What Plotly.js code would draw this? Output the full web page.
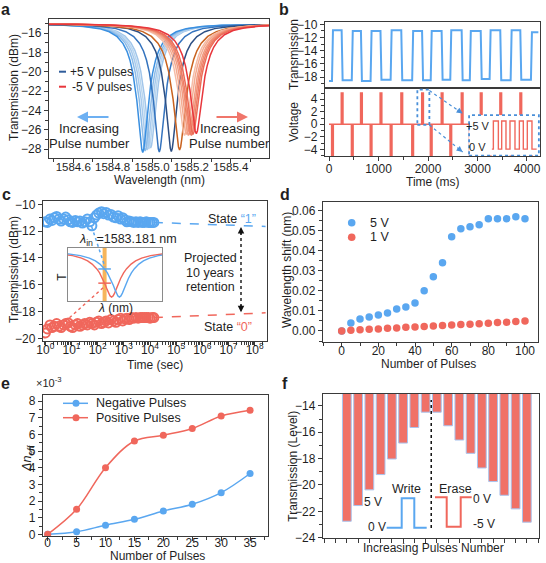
<!DOCTYPE html>
<html>
<head>
<meta charset="utf-8">
<script src="https://cdn.plot.ly/plotly-3.0.1.min.js"></script>
<style>
  html, body { margin: 0; padding: 0; background: #fff; }
  #fig { width: 546px; height: 563px; }
</style>
</head>
<body>
<div id="fig"></div>
<script>
// ---------------- data ----------------

// (a) resonance dips: shared line shape (offset from centre in nm, fraction of dip depth)
const dipOffsetNm = [0, 0.005, 0.01, 0.015, 0.02, 0.03, 0.04, 0.05, 0.065, 0.08, 0.1, 0.13, 0.17, 0.22, 0.3, 0.4, 0.55, 0.8, 1.2];
const dipDepthFraction = [1, 0.976, 0.915, 0.834, 0.749, 0.597, 0.476, 0.384, 0.284, 0.215, 0.155, 0.101, 0.063, 0.039, 0.022, 0.012, 0.0066, 0.0032, 0.0014];
const spectrumBaseline = -15.0;
const posPulseCenter = [1584.993, 1584.984, 1584.975, 1584.965, 1584.953, 1585.037, 1585.098];
const posPulseMin    = [-27.9, -28.0, -28.1, -28.2, -28.35, -28.3, -28.25];
const posPulseColor  = ['#A2C6EA', '#B8D6F0', '#A8CAEC', '#8DBCE8', '#3A8FE0', '#3473BE', '#2C4F84'];
const negPulseCenter = [1585.14, 1585.165, 1585.175, 1585.185, 1585.193, 1585.2, 1585.208, 1585.225];
const negPulseMin    = [-28.1, -26.6, -26.5, -26.6, -26.5, -26.6, -26.5, -26.4];
const negPulseColor  = ['#C9621E', '#F6BCA6', '#F4AC92', '#F29C82', '#F08C72', '#EE7C64', '#EC6C57', '#E8363C'];

// (b) pulse train (ms) and optical response (dBm)
const setPulseTime   = [70, 470, 850, 1255, 1690, 2065, 2460, 2855, 3255, 3680, 4090];   // -5 V pulses
const resetPulseTime = [265, 655, 1050, 1470, 1890, 2285, 2690, 3075, 3470, 3875];       // +5 V pulses
const highLevel = [-10.9, -11.0, -11.0, -10.9, -11.0, -11.0, -10.9, -11.0, -10.9, -10.9, -11.2];
const lowLevel  = [-18.6, -18.5, -18.6, -18.4, -18.5, -18.5, -18.4, -18.5, -18.3, -18.5, -18.4];
const pulseAmplitude = 5;
const pulseWidthMs = 32;
const traceEndMs = 4230;
// zoomed pulse sketch inside the inset
const zoomRise = [3320, 3488, 3656, 3845, 4006];
const zoomFall = [3421, 3575, 3757, 3925, 4100];
const zoomStart = 3290, zoomEnd = 4195, zoomHigh = 0.5, zoomLow = -4.0;

// (c) retention
const retTime = [1, 1.2, 1.5, 1.8, 2.2, 2.7, 3.3, 4, 5, 6, 7.5, 9, 11, 14, 17, 21, 26, 32, 40, 50, 60, 75, 90, 110, 140, 170, 210, 260, 320, 400, 500, 600, 750, 900, 1100, 1300, 1600, 2000, 2400, 2900, 3500, 4200, 5000, 6000, 7200, 8600, 10000, 12000, 14000];
const state1Level = [-11.3, -11.35, -11.1, -11.2, -11.0, -10.9, -11.1, -11.25, -11.1, -10.95, -11.15, -11.3, -11.35, -11.2, -11.3, -11.25, -11.4, -11.3, -11.1, -11.3, -11.6, -11.0, -10.8, -10.65, -10.55, -10.7, -10.6, -10.8, -10.75, -10.95, -11.0, -10.85, -11.1, -11.0, -11.15, -11.3, -11.25, -11.3, -11.35, -11.3, -11.35, -11.3, -11.35, -11.35, -11.3, -11.35, -11.35, -11.35, -11.35];
const state0Level = [-19.6, -19.3, -19.0, -19.2, -19.1, -18.9, -19.1, -19.2, -19.0, -18.9, -18.85, -19.1, -19.2, -19.0, -18.9, -19.1, -19.0, -18.9, -19.0, -18.8, -18.9, -19.0, -18.8, -18.7, -18.9, -18.8, -18.7, -18.85, -18.6, -18.7, -18.8, -18.6, -18.5, -18.7, -18.55, -18.5, -18.6, -18.45, -18.5, -18.45, -18.5, -18.45, -18.45, -18.45, -18.45, -18.45, -18.5, -18.45, -18.45];
const projTime = [14000, 2.6e8];
const proj1Level = [-11.35, -11.65];
const proj0Level = [-18.45, -18.1];
// inset: probe wavelength and the two resonances (arbitrary T)
const probeWavelength = 1583.181;
const insetRedCenter = 1583.216, insetBlueCenter = 1583.255;
const insetTop = 0.943, insetBottom = 0.075, insetWidthScale = 1.5;

// (d) wavelength shift vs pulses
const dPulses = [0, 5, 10, 15, 20, 25, 30, 35, 40, 45, 50, 55, 60, 65, 70, 75, 80, 85, 90, 95, 100];
const shift5V = [0, 0.004, 0.006, 0.007, 0.008, 0.009, 0.011, 0.012, 0.014, 0.020, 0.027, 0.034, 0.047, 0.051, 0.052, 0.053, 0.056, 0.056, 0.056, 0.057, 0.056];
const shift1V = [0, 0.0003, 0.0006, 0.0008, 0.001, 0.0013, 0.0015, 0.0018, 0.002, 0.0022, 0.0025, 0.0027, 0.003, 0.0032, 0.0034, 0.0036, 0.0039, 0.0042, 0.0044, 0.0047, 0.005];

// (e) effective index change (x1e-3)
const ePulses = [0, 5, 10, 15, 20, 25, 30, 35];
const dnNegative = [0, 0.15, 0.55, 0.9, 1.4, 1.8, 2.5, 3.65];
const dnPositive = [0, 1.5, 4.0, 5.6, 5.95, 6.35, 7.1, 7.45];

// (f) multilevel write / erase
const fStep = [1, 2, 3, 4, 5, 6, 7, 8, 9, 10, 11, 12, 13, 14, 15, 16, 17];
const fLevel = [-22.75, -21.56, -20.37, -19.21, -18.03, -16.82, -15.64, -14.48, -14.48, -15.51, -16.59, -17.6, -18.71, -19.74, -20.78, -21.81, -22.82];
const fBarTop = -13;

// ---------------- style ----------------
const W = 546, H = 563;
const FONT = 'Liberation Sans, Arial, Helvetica, sans-serif';
const INK = '#1f1f1f';
const AX = '#3a3a3a';
const BLUE = '#5AA7F0';
const RED = '#F0675C';
const DOTBLUE = '#4A90D9';

const dx = (a, b) => [a / W, b / W];
const dy = (top, bottom) => [1 - bottom / H, 1 - top / H];
const PX = v => v / W;
const PY = v => 1 - v / H;

function axis(domain, range, extra) {
  return Object.assign({
    domain: domain, range: range, showline: true, mirror: true, linecolor: AX, linewidth: 1.2,
    ticks: 'outside', ticklen: 4, tickwidth: 1, tickcolor: AX,
    showgrid: false, zeroline: false,
    tickfont: {family: FONT, size: 12, color: INK}
  }, extra);
}
function minor(d) { return {ticks: 'outside', ticklen: 2.5, tickwidth: 1, tickcolor: AX, dtick: d, showgrid: false}; }

function txt(t, x, y, size, extra) {
  return Object.assign({
    text: t, x: PX(x), y: PY(y), xref: 'paper', yref: 'paper', showarrow: false,
    xanchor: 'center', yanchor: 'middle', font: {family: FONT, size: size || 12, color: INK}
  }, extra || {});
}
function head(xref, yref, x, y, ax, ay, color, width) {
  return {text: '', xref: xref, yref: yref, x: x, y: y, ax: ax, ay: ay, axref: 'pixel', ayref: 'pixel',
    showarrow: true, arrowhead: 2, arrowsize: 1, arrowwidth: width, arrowcolor: color, standoff: 0};
}
// legend keys drawn as paper-space decorations
function dot(cx, cy, r, color) {
  return {type: 'circle', xref: 'paper', yref: 'paper', x0: PX(cx - r), x1: PX(cx + r), y0: PY(cy + r), y1: PY(cy - r),
    fillcolor: color, line: {width: 0}};
}
function seg(x0, x1, y, color, width) {
  return {type: 'line', xref: 'paper', yref: 'paper', x0: PX(x0), x1: PX(x1), y0: PY(y), y1: PY(y), line: {color: color, width: width}};
}

// dip profile sampled symmetrically around a centre
function dip(center, depthFrom, depthTo, scale) {
  const xs = [], ys = [];
  for (let i = dipOffsetNm.length - 1; i > 0; i--) {
    xs.push(center - dipOffsetNm[i] * scale);
    ys.push(depthFrom + (depthTo - depthFrom) * dipDepthFraction[i]);
  }
  for (let i = 0; i < dipOffsetNm.length; i++) {
    xs.push(center + dipOffsetNm[i] * scale);
    ys.push(depthFrom + (depthTo - depthFrom) * dipDepthFraction[i]);
  }
  return {xs, ys};
}
function dipAt(delta) {
  const d = Math.abs(delta);
  for (let i = 1; i < dipOffsetNm.length; i++) {
    if (d <= dipOffsetNm[i]) {
      const f = (d - dipOffsetNm[i - 1]) / (dipOffsetNm[i] - dipOffsetNm[i - 1]);
      return dipDepthFraction[i - 1] + f * (dipDepthFraction[i] - dipDepthFraction[i - 1]);
    }
  }
  return 0;
}

const traces = [];
const line = (x, y, xa, ya, color, width, extra) => Object.assign({
  type: 'scatter', mode: 'lines', x: x, y: y, xaxis: xa, yaxis: ya,
  line: {color: color, width: width}, showlegend: false, hoverinfo: 'skip'
}, extra || {});

// (a)
posPulseCenter.forEach((c, i) => {
  const d = dip(c, spectrumBaseline, posPulseMin[i], 1);
  traces.push(line(d.xs, d.ys, 'x', 'y', posPulseColor[i], 1.5));
});
negPulseCenter.forEach((c, i) => {
  const d = dip(c, spectrumBaseline, negPulseMin[i], 1.1);
  traces.push(line(d.xs, d.ys, 'x', 'y', negPulseColor[i], 1.5));
});

// (b) optical response following the pulses
(function () {
  const x = [0], y = [lowLevel[0]];
  const e = 10;
  setPulseTime.forEach((t, k) => {
    x.push(t - e, t + e); y.push(lowLevel[k], highLevel[k]);
    if (k < resetPulseTime.length) {
      const tf = resetPulseTime[k];
      x.push(tf - e, tf + e); y.push(highLevel[k], lowLevel[k + 1]);
    }
  });
  x.push(traceEndMs); y.push(highLevel[highLevel.length - 1]);
  traces.push(line(x, y, 'x2', 'y2', BLUE, 2));

  const ev = [];
  setPulseTime.forEach(t => ev.push([t, -pulseAmplitude]));
  resetPulseTime.forEach(t => ev.push([t, pulseAmplitude]));
  ev.sort((a, b) => a[0] - b[0]);
  const px = [0], pv = [0];
  ev.forEach(([t, a]) => {
    const h = pulseWidthMs / 2;
    px.push(t - h, t - h, t + h, t + h); pv.push(0, a, a, 0);
  });
  px.push(traceEndMs); pv.push(0);
  traces.push(line(px, pv, 'x3', 'y3', RED, 1.6));

  const zx = [zoomStart], zv = [zoomLow];
  zoomRise.forEach((t, k) => {
    zx.push(t, t, zoomFall[k], zoomFall[k]); zv.push(zoomLow, zoomHigh, zoomHigh, zoomLow);
  });
  zx.push(zoomEnd); zv.push(zoomLow);
  traces.push(line(zx, zv, 'x9', 'y9', RED, 1.4));
})();

// (c)
traces.push({type: 'scatter', mode: 'markers', x: retTime, y: state1Level, xaxis: 'x4', yaxis: 'y4',
  marker: {symbol: 'circle-open', size: 9, color: BLUE, line: {width: 2}}, showlegend: false, hoverinfo: 'skip'});
traces.push({type: 'scatter', mode: 'markers', x: retTime, y: state0Level, xaxis: 'x4', yaxis: 'y4',
  marker: {symbol: 'circle-open', size: 9, color: RED, line: {width: 2}}, showlegend: false, hoverinfo: 'skip'});
traces.push(line(projTime, proj1Level, 'x4', 'y4', BLUE, 1.5, {line: {color: BLUE, width: 1.5, dash: 'dash'}}));
traces.push(line(projTime, proj0Level, 'x4', 'y4', RED, 1.5, {line: {color: RED, width: 1.5, dash: 'dash'}}));
(function () {
  const r = dip(insetRedCenter, insetTop, insetBottom, insetWidthScale);
  const b = dip(insetBlueCenter, insetTop, insetBottom, insetWidthScale);
  traces.push(line(r.xs, r.ys, 'x5', 'y5', RED, 1.4));
  traces.push(line(b.xs, b.ys, 'x5', 'y5', BLUE, 1.4));
  const yr = insetTop + (insetBottom - insetTop) * dipAt((probeWavelength - insetRedCenter) / insetWidthScale);
  const yb = insetTop + (insetBottom - insetTop) * dipAt((probeWavelength - insetBlueCenter) / insetWidthScale);
  traces.push({type: 'scatter', mode: 'markers', x: [probeWavelength], y: [yb], xaxis: 'x5', yaxis: 'y5',
    marker: {symbol: 'line-ew-open', size: 9, color: BLUE, line: {width: 1.5}}, showlegend: false, hoverinfo: 'skip'});
  traces.push({type: 'scatter', mode: 'markers', x: [probeWavelength], y: [yr], xaxis: 'x5', yaxis: 'y5',
    marker: {symbol: 'line-ew-open', size: 9, color: RED, line: {width: 1.5}}, showlegend: false, hoverinfo: 'skip'});
})();

// (d)
traces.push({type: 'scatter', mode: 'markers', name: '5 V', x: dPulses, y: shift5V, xaxis: 'x6', yaxis: 'y6',
  marker: {size: 7.5, color: BLUE}, showlegend: false, hoverinfo: 'skip'});
traces.push({type: 'scatter', mode: 'markers', name: '1 V', x: dPulses, y: shift1V, xaxis: 'x6', yaxis: 'y6',
  marker: {size: 7.5, color: RED}, showlegend: false, hoverinfo: 'skip'});

// (e)
traces.push({type: 'scatter', mode: 'lines+markers', name: 'Negative Pulses', x: ePulses, y: dnNegative, xaxis: 'x7', yaxis: 'y7',
  line: {color: BLUE, width: 1.5, shape: 'spline'}, marker: {size: 7, color: BLUE}, showlegend: false, hoverinfo: 'skip'});
traces.push({type: 'scatter', mode: 'lines+markers', name: 'Positive Pulses', x: ePulses, y: dnPositive, xaxis: 'x7', yaxis: 'y7',
  line: {color: RED, width: 1.5, shape: 'spline'}, marker: {size: 7, color: RED}, showlegend: false, hoverinfo: 'skip'});

// (f)
traces.push({type: 'bar', x: fStep, y: fLevel.map(v => v - fBarTop), base: fBarTop, xaxis: 'x8', yaxis: 'y8',
  width: 0.78, marker: {color: '#F07167', line: {color: '#A9C4EE', width: 1}}, showlegend: false, hoverinfo: 'skip'});

// ---------------- layout ----------------
const pathOf = pts => pts.map((p, i) => (i ? 'L' : 'M') + PX(p[0]) + ',' + PY(p[1])).join(' ');
const decadeVals = [1, 10, 100, 1e3, 1e4, 1e5, 1e6, 1e7, 1e8];

const layout = {
  width: W, height: H, margin: {l: 0, r: 0, t: 0, b: 0},
  paper_bgcolor: '#ffffff', plot_bgcolor: '#ffffff',
  font: {family: FONT, size: 12, color: INK},
  showlegend: false,

  xaxis: axis(dx(49, 269), [1584.477, 1585.594], {anchor: 'y', tick0: 1584.6, dtick: 0.2, tickformat: '.1f',
    minor: minor(0.1), ticklabelstandoff: -6, tickfont: {family: FONT, size: 11.5, color: INK}}),
  yaxis: axis(dy(19, 158), [-28.93, -14.52], {anchor: 'x', dtick: 2, minor: minor(1)}),

  xaxis2: axis(dx(325, 540), [-81, 4263], {anchor: 'y2', showticklabels: false, ticks: ''}),
  yaxis2: axis(dy(22, 88), [-19.66, -9.65], {anchor: 'x2', dtick: 2, minor: minor(1)}),
  xaxis3: axis(dx(325, 540), [-81, 4263], {anchor: 'y3', dtick: 1000, minor: minor(500), ticklabelstandoff: -3}),
  yaxis3: axis(dy(88, 156), [-5.07, 5.8], {anchor: 'x3', dtick: 2, minor: minor(1)}),

  xaxis4: axis(dx(43, 267), [-0.09, 8.47], {anchor: 'y4', type: 'log', tickmode: 'array', tickvals: decadeVals,
    ticktext: decadeVals.map((v, i) => '10<sup>' + i + '</sup>'), ticklabelstandoff: -7,
    minor: {ticks: 'outside', ticklen: 2.5, tickcolor: AX, dtick: 'D1'}}),
  yaxis4: axis(dy(201, 341), [-20.2, -9.75], {anchor: 'x4', dtick: 2, minor: minor(1)}),

  xaxis5: {domain: dx(68, 162), range: [1582.998, 1583.468], anchor: 'y5', showline: true, mirror: true, linecolor: '#8a8a8a',
    linewidth: 1, ticks: '', showticklabels: false, showgrid: false, zeroline: false},
  yaxis5: {domain: dy(248, 301), range: [0, 1], anchor: 'x5', showline: true, mirror: true, linecolor: '#8a8a8a',
    linewidth: 1, ticks: '', showticklabels: false, showgrid: false, zeroline: false},

  xaxis6: axis(dx(323, 538), [-10.2, 107.1], {anchor: 'y6', dtick: 20, minor: minor(10), ticklabelstandoff: -7}),
  yaxis6: axis(dy(202, 342), [-0.0055, 0.0643], {anchor: 'x6', dtick: 0.01, tickformat: '.2f', minor: minor(0.005)}),

  xaxis7: axis(dx(43, 268), [-0.81, 38.1], {anchor: 'y7', dtick: 5, minor: minor(2.5), ticklabelstandoff: -9}),
  yaxis7: axis(dy(395, 536), [-0.1, 8.36], {anchor: 'x7', dtick: 1, minor: minor(0.5)}),

  xaxis8: axis(dx(323, 539), [-1.12, 18.08], {anchor: 'y8', tick0: 0, dtick: 1, showticklabels: false}),
  yaxis8: axis(dy(394, 538), [-24.02, -13.1], {anchor: 'x8', dtick: 2, minor: minor(1)}),

  xaxis9: {domain: dx(469.1, 538.9), range: [2830, 4240], anchor: 'y9', showline: false, ticks: '', showticklabels: false, showgrid: false, zeroline: false},
  yaxis9: {domain: dy(115.1, 155.4), range: [-5.0, 1.45], anchor: 'x9', showline: false, ticks: '', showticklabels: false, showgrid: false, zeroline: false},

  shapes: [
    // (a) legend keys
    seg(59, 66, 71.7, '#2F5C9B', 2),
    seg(59, 66, 86.7, '#E8363C', 2),
    // (b) zoom boxes and guides
    {type: 'rect', xref: 'x3', yref: 'y3', x0: 1785, x1: 2028, y0: -0.1, y1: 5.55, line: {color: DOTBLUE, width: 1.8, dash: 'dot'}},
    {type: 'rect', xref: 'x3', yref: 'y3', x0: 2830, x1: 4240, y0: -5.0, y1: 1.45, line: {color: DOTBLUE, width: 1.8, dash: 'dot'}},
    {type: 'line', xref: 'x3', yref: 'y3', x0: 2028, y0: 5.4, x1: 2700, y1: 1.71, line: {color: DOTBLUE, width: 1.2, dash: 'dot'}},
    {type: 'line', xref: 'x3', yref: 'y3', x0: 2028, y0: -0.1, x1: 2700, y1: -4.43, line: {color: DOTBLUE, width: 1.2, dash: 'dot'}},
    // (c) probe band, guides and retention arrow
    {type: 'rect', xref: 'x5', yref: 'y5', x0: probeWavelength - 0.01, x1: probeWavelength + 0.01, y0: 0, y1: 1,
      fillcolor: '#F6B55B', line: {width: 0}, layer: 'below'},
    {type: 'line', xref: 'paper', yref: 'paper', x0: PX(91.7), y0: PY(226.7), x1: PX(105), y1: PY(267), line: {color: BLUE, width: 1.5, dash: 'dot'}},
    {type: 'line', xref: 'paper', yref: 'paper', x0: PX(65), y0: PY(321.7), x1: PX(104), y1: PY(287), line: {color: RED, width: 1.5, dash: 'dot'}},
    {type: 'line', xref: 'paper', yref: 'paper', x0: PX(241), y0: PY(232), x1: PX(241), y1: PY(307), line: {color: '#111', width: 1.4, dash: 'dot'}},
    // (d) legend keys
    dot(351.7, 222.7, 3.8, BLUE), dot(351.7, 237.3, 3.8, RED),
    // (e) legend keys
    seg(63, 88, 403.3, BLUE, 1.5), dot(76, 403.3, 3.5, BLUE),
    seg(63, 88, 417.7, RED, 1.5), dot(76, 417.7, 3.5, RED),
    // (f) divider and pulse sketches
    {type: 'line', xref: 'x8', yref: 'paper', x0: 8.5, x1: 8.5, y0: PY(528), y1: PY(400), line: {color: '#111', width: 1.5, dash: 'dot'}},
    {type: 'path', xref: 'paper', yref: 'paper', path: pathOf([[386.7, 527.7], [401.7, 527.7], [401.7, 498.3], [414.3, 498.3], [414.3, 527.7], [426.7, 527.7]]),
      line: {color: BLUE, width: 2}},
    {type: 'path', xref: 'paper', yref: 'paper', path: pathOf([[435, 497.3], [446.7, 497.3], [446.7, 526.7], [460.7, 526.7], [460.7, 497.3], [471.7, 497.3]]),
      line: {color: RED, width: 2}}
  ],

  annotations: [
    // panel letters
    txt('<b>a</b>', 5.5, 10, 16), txt('<b>b</b>', 284, 10, 16), txt('<b>c</b>', 6, 194, 16),
    txt('<b>d</b>', 285, 194, 16), txt('<b>e</b>', 5.5, 383, 16), txt('<b>f</b>', 284.5, 383, 16),

    // (a)
    txt('Wavelength (nm)', 159, 180, 12),
    txt('Transmission (dBm)', 14, 88, 12, {textangle: -90}),
    txt('+5 V pulses', 68, 71.7, 12, {xanchor: 'left'}),
    txt('-5 V pulses', 70, 86.7, 12, {xanchor: 'left'}),
    txt('Increasing', 89, 128, 13), txt('Pulse number', 89, 143, 13),
    txt('Increasing', 230, 128, 13), txt('Pulse number', 229, 143, 13),
    {text: '', xref: 'paper', yref: 'paper', x: PX(77), y: PY(117), ax: 33, ay: 0, showarrow: true,
      arrowhead: 2, arrowsize: 1, arrowwidth: 2.2, arrowcolor: '#6DB0F2', standoff: 0},
    {text: '', xref: 'paper', yref: 'paper', x: PX(248), y: PY(117), ax: -33, ay: 0, showarrow: true,
      arrowhead: 2, arrowsize: 1, arrowwidth: 2.2, arrowcolor: '#F0766B', standoff: 0},

    // (b)
    txt('Transmission', 294, 55, 12, {textangle: -90}),
    txt('Voltage', 294, 122, 12, {textangle: -90}),
    txt('Time (ms)', 433, 182.5, 12),
    txt('+5 V', 478, 126, 11), txt('0 V', 477.5, 146.7, 11),
    head('x3', 'y3', 2700, 1.71, -6.6, -4.6, DOTBLUE, 1.2),
    head('x3', 'y3', 2700, -4.43, -6.2, -5.0, DOTBLUE, 1.2),

    // (c)
    txt('Transmission (dBm)', 14, 270, 12, {textangle: -90}),
    txt('Time (sec)', 155, 364.5, 12),
    txt('<i>λ</i><sub>in</sub> =1583.181 nm', 77, 240, 12.5, {xanchor: 'left'}),
    txt('T', 61.7, 277, 12, {textangle: -90}),
    txt('<i>λ</i> (nm)', 115, 308.3, 12),
    txt('State <span style="color:' + BLUE + '">“1”</span>', 232, 219.3, 12.5),
    txt('State <span style="color:' + RED + '">“0”</span>', 227.5, 326.7, 12.5),
    txt('Projected', 210, 258.3, 12.5), txt('10 years', 210, 272.5, 12.5), txt('retention', 210, 286.7, 12.5),
    {text: '', xref: 'paper', yref: 'paper', x: PX(241), y: PY(227), ax: 0, ay: 9, showarrow: true,
      arrowhead: 2, arrowsize: 1, arrowwidth: 1.3, arrowcolor: '#111', standoff: 0},
    {text: '', xref: 'paper', yref: 'paper', x: PX(241), y: PY(312.3), ax: 0, ay: -9, showarrow: true,
      arrowhead: 2, arrowsize: 1, arrowwidth: 1.3, arrowcolor: '#111', standoff: 0},

    // (d)
    txt('Wavelength shift (nm)', 287, 270, 12, {textangle: -90}),
    txt('Number of Pulses', 428, 364, 12),
    txt('5 V', 368, 222.7, 12.5, {xanchor: 'left'}),
    txt('1 V', 368, 237.3, 12.5, {xanchor: 'left'}),

    // (e)
    txt('<i>Δn</i><sub><i>eff</i></sub>', 28, 458, 12.5, {textangle: -90}),
    txt('×10<sup>-3</sup>', 49, 382, 11),
    txt('Number of Pulses', 157, 556.3, 12),
    txt('Negative Pulses', 94, 403.3, 12.5, {xanchor: 'left'}),
    txt('Positive Pulses', 94, 417.7, 12.5, {xanchor: 'left'}),

    // (f)
    txt('Transmission (Level)', 293, 466.7, 12, {textangle: -90}),
    txt('Increasing Pulses Number', 433, 548.3, 12),
    txt('Write', 406.7, 489, 12.5), txt('Erase', 455, 489, 12.5),
    txt('5 V', 373.3, 501.7, 12), txt('0 V', 376.7, 526.7, 12),
    txt('0 V', 482, 499, 12), txt('-5 V', 483.5, 524, 12)
  ]
};

Plotly.newPlot('fig', traces, layout, {staticPlot: true, displayModeBar: false});
</script>
</body>
</html>
